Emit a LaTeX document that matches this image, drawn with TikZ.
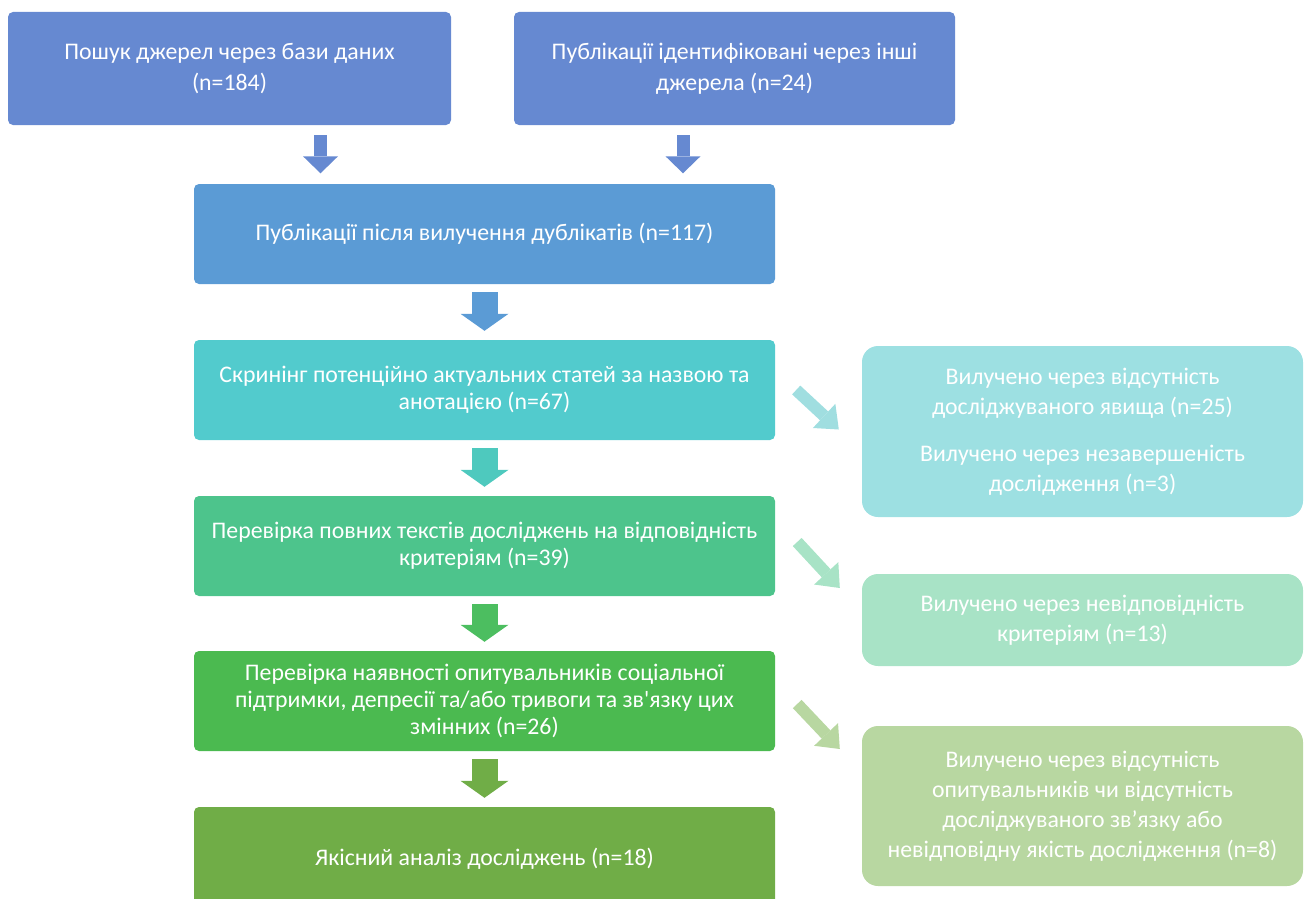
\documentclass[tikz,border=0pt]{standalone}
\usepackage{fontspec}
\setmainfont{Carlito}[Ligatures=TeXOff]
\usetikzlibrary{arrows.meta}
\definecolor{xanhtim}{RGB}{102,137,209}
\definecolor{xanh}{RGB}{91,155,213}
\definecolor{ngoc}{RGB}{82,203,205}
\definecolor{bac}{RGB}{77,196,140}
\definecolor{la}{RGB}{75,186,80}
\definecolor{reu}{RGB}{112,173,71}
\definecolor{ngocnhat}{RGB}{157,224,226}
\definecolor{bacnhat}{RGB}{168,227,198}
\definecolor{reunhat}{RGB}{184,215,161}
\begin{document}
\begin{tikzpicture}[x=1pt, y=-1pt, font=\fontsize{23.8}{27}\selectfont, line join=miter,
	hop/.style={rounded corners=5pt, text=white, align=center, inner sep=0pt, minimum width=581pt, minimum height=100pt},
	hoptren/.style={hop, minimum width=443pt, minimum height=113pt, font=\fontsize{23.8}{31}\selectfont},
	hopphai/.style={hop, rounded corners=16pt, minimum width=441pt, font=\fontsize{23.8}{30}\selectfont},
	muiten/.style={line width=26pt, shorten <=8pt, shorten >=9pt, -{Triangle[width=48pt,length=17pt,line width=0pt]}},
	muitennho/.style={line width=13pt, shorten <=10pt, shorten >=10.5pt, -{Triangle[width=35pt,length=17pt,line width=0pt]}},
	muitencheo/.style={line width=12pt, -{Triangle[width=33pt,length=20pt,line width=0pt]}}]
	\clip (0,0) rectangle (1310,899);
	\def\cot{484.5} % tâm cột giữa
	\def\phai{1082.5} % tâm cột phải
	% hai nguồn
	\node[hoptren, fill=xanhtim] (nguon1) at (229.5,68.5) {Пошук джерел через бази даних\\(n=184)};
	\node[hoptren, fill=xanhtim, minimum width=441pt] (nguon2) at (734.5,68.5) {Публікації ідентифіковані через інші\\джерела (n=24)};
	% cột giữa
	\node[hop, fill=xanh] (dedup) at (\cot,234) {Публікації після вилучення дублікатів (n=117)};
	\node[hop, fill=ngoc] (skrin) at (\cot,390) {Скринінг потенційно актуальних статей за назвою та\\анотацією (n=67)};
	\node[hop, fill=bac] (tekst) at (\cot,546) {Перевірка повних текстів досліджень на відповідність\\критеріям (n=39)};
	\node[hop, fill=la] (opyt) at (\cot,701) {Перевірка наявності опитувальників соціальної\\підтримки, депресії та/або тривоги та зв'язку цих\\змінних (n=26)};
	\node[hop, fill=reu, minimum height=103pt] (analiz) at (\cot,858.5) {Якісний аналіз досліджень (n=18)};
	% cột phải
	\node[hopphai, fill=ngocnhat, minimum height=171pt] (vyl1) at (\phai,431.5) {Вилучено через відсутність\\досліджуваного явища (n=25)\\[17pt]Вилучено через незавершеність\\дослідження (n=3)};
	\node[hopphai, fill=bacnhat, minimum height=92pt] (vyl2) at (\phai,620) {Вилучено через невідповідність\\критеріям (n=13)};
	\node[hopphai, fill=reunhat, minimum height=160pt] (vyl3) at (\phai,806) {Вилучено через відсутність\\опитувальників чи відсутність\\досліджуваного зв’язку або\\невідповідну якість дослідження (n=8)};
	% mũi tên
	\draw[muitennho, draw=xanhtim] (nguon1.south -| 320.5,0) -- (dedup.north -| 320.5,0);
	\draw[muitennho, draw=xanhtim] (nguon2.south -| 683,0) -- (dedup.north -| 683,0);
	\draw[muiten, draw=xanh] (dedup) -- (skrin);
	\draw[muiten, draw={rgb,255:red,78;green,201;blue,190}] (skrin) -- (tekst);
	\draw[muiten, draw={rgb,255:red,76;green,190;blue,96}] (tekst) -- (opyt);
	\draw[muiten, draw=reu] (opyt) -- (analiz);
	\draw[muitencheo, draw={rgb,255:red,160;green,222;blue,224}] ([shift={(21,0)}]skrin.east) -- ([shift={(-23,-2)}]vyl1.west);
	\draw[muitencheo, draw={rgb,255:red,168;green,227;blue,198}] ([shift={(22,-4)}]tekst.east) -- ([shift={(-22,-32)}]vyl2.west);
	\draw[muitencheo, draw={rgb,255:red,184;green,215;blue,161}] ([shift={(22,3)}]opyt.east) -- ([shift={(-22,-57)}]vyl3.west);
\end{tikzpicture}
\end{document}
